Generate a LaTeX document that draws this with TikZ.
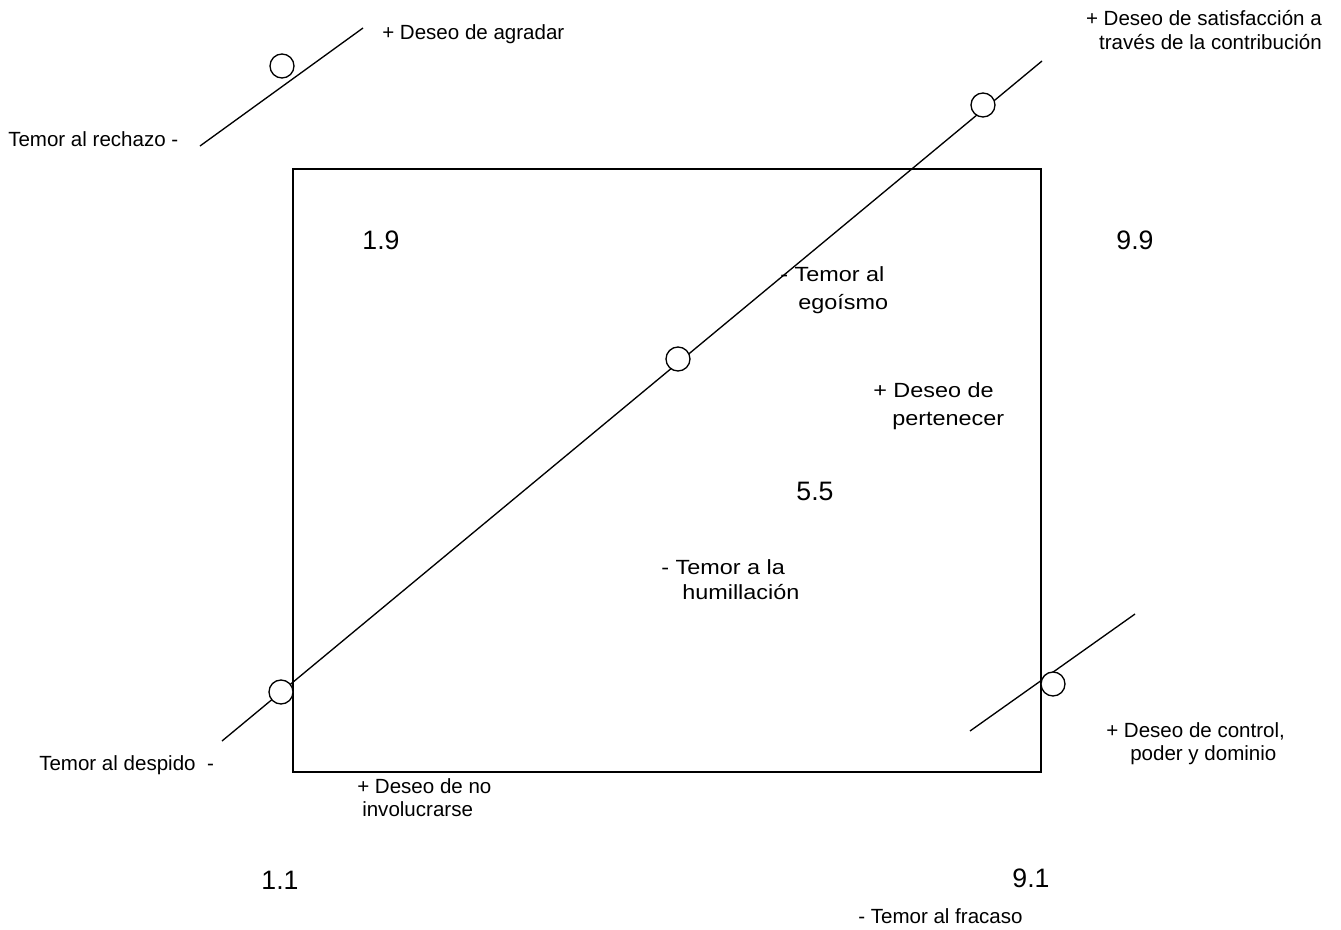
\documentclass[tikz,border=0pt]{standalone}
\usepackage{fontspec}
\setmainfont{Liberation Sans}
\newfontfamily\widesans[FakeStretch=1.14]{Liberation Sans}
\begin{document}
\begin{tikzpicture}[x=0.75pt,y=-0.75pt,
  lbl/.style={inner sep=0pt,anchor=base west,font=\fontsize{15.4}{18}\selectfont},
  ilbl/.style={inner sep=0pt,anchor=base west,font=\widesans\fontsize{15.4}{18}\selectfont},
  num/.style={inner sep=0pt,anchor=center,font=\fontsize{20}{24}\selectfont},
  ln/.style={line width=1pt,black},
  dot/.style={circle,draw,line width=1pt,fill=white,minimum size=18pt,inner sep=0pt}]
\path[use as bounding box,fill=white] (0,0) rectangle (1341,929);
% frame
\draw[ln] (293,169) rectangle (1041,772);
% main diagonal
\coordinate (m1) at (222,741);
\coordinate (m2) at (1042,61);
\draw[ln] (m1) -- (m2);
% top-left line
\coordinate (t1) at (200,146);
\coordinate (t2) at (363,28);
\draw[ln] (t1) -- (t2);
% bottom-right line
\coordinate (b1) at (970,731);
\coordinate (b2) at (1135,614);
\draw[ln] (b1) -- (b2);
% circles
\node[dot] (c11) at (281,692) {};
\node[dot] (c55) at (678,359) {};
\node[dot] (c99) at (983,105) {};
\node[dot] (c19) at (282,66) {};
\node[dot] (c91) at (1053,684) {};
% numbers
\node[num] (n19) at (381,240) {1.9};
\node[num] (n99) at (1135,240) {9.9};
\node[num] (n55) at (815,491) {5.5};
\node[num] (n11) at (280,880) {1.1};
\node[num] (n91) at (1031,878) {9.1};
% labels
\node[lbl] (agradar) at (382,39) {+ Deseo de agradar};
\node[lbl] (rechazo) at (8,146) {Temor al rechazo -};
\node[lbl,anchor=base east] (satis1) at (1322,25) {+ Deseo de satisfacción a};
\node[lbl,anchor=base east] (satis2) at (1322,49) {través de la contribución};
\node[ilbl] (ego1) at (780,281) {- Temor al};
\node[ilbl] (ego2) at (798,309) {egoísmo};
\node[ilbl] (pert1) at (873,397) {+ Deseo de};
\node[ilbl] (pert2) at (892,425) {pertenecer};
\node[ilbl] (hum1) at (661,574) {- Temor a la};
\node[ilbl] (hum2) at (682,599) {humillación};
\node[lbl] (despido) at (39,770) {Temor al despido \ -};
\node[lbl] (invol1) at (357,793) {+ Deseo de no};
\node[lbl] (invol2) at (362,816) {involucrarse};
\node[lbl] (ctrl1) at (1106,737) {+ Deseo de control,};
\node[lbl] (ctrl2) at (1130,760) {poder y dominio};
\node[lbl] (fracaso) at (858,923) {- Temor al fracaso};
\end{tikzpicture}
\end{document}
